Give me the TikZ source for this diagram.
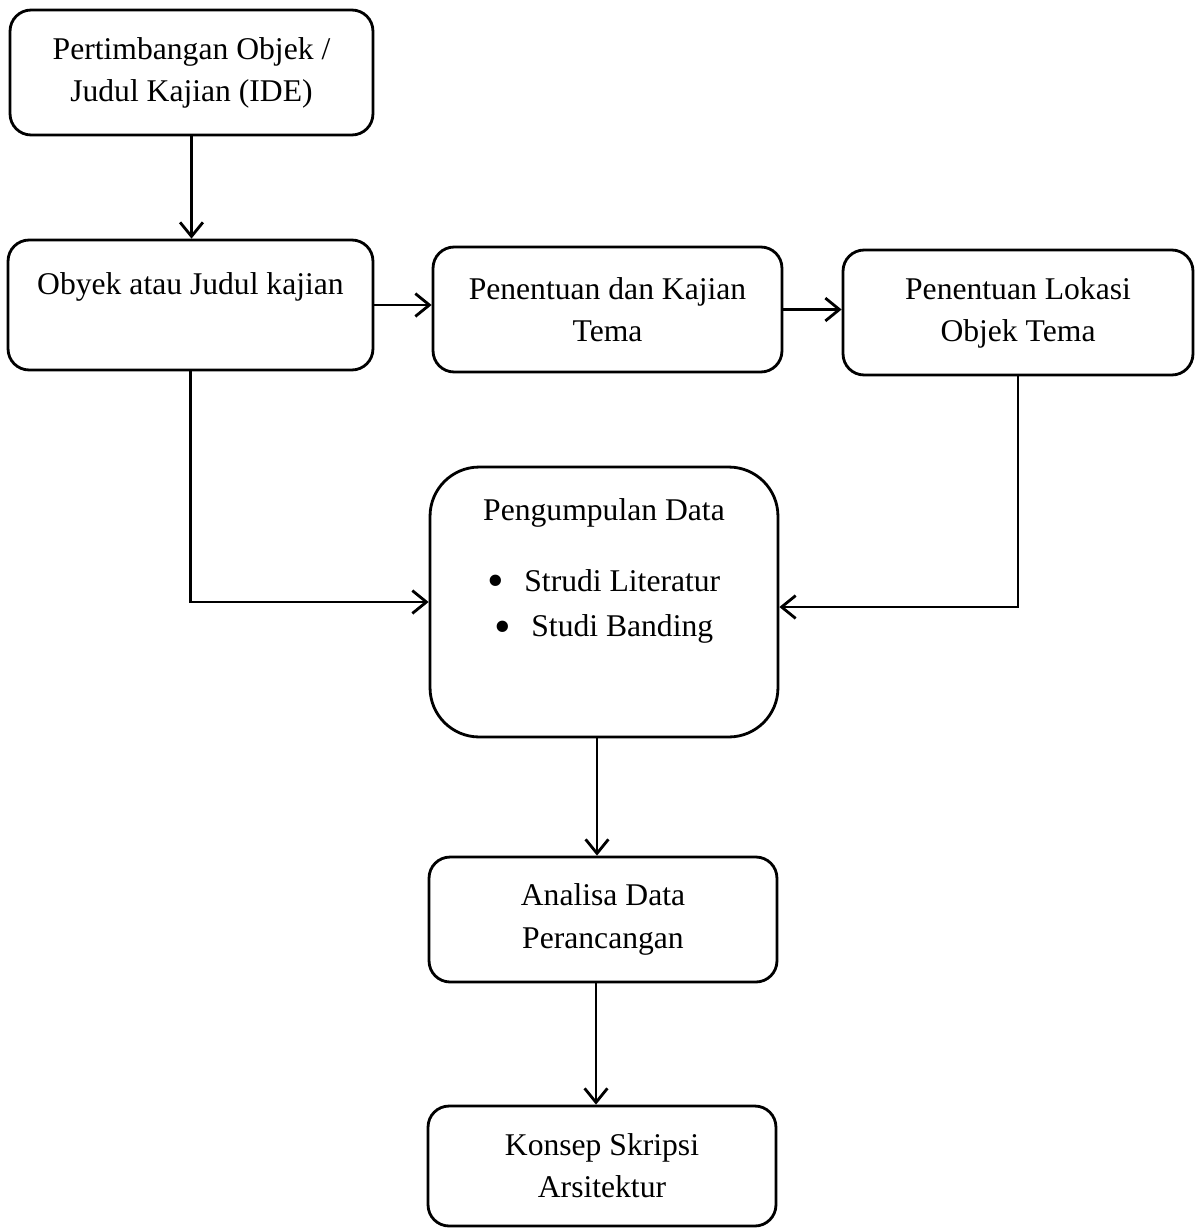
\documentclass[tikz,border=0pt]{standalone}
\usepackage{fontspec}
\setmainfont{Liberation Serif}
\usetikzlibrary{arrows.meta,positioning}
\newcommand{\bigdot}{\raisebox{-0.17em}{\fontsize{27}{24}\selectfont\textbullet}}
\tikzset{
  box/.style={draw, line width=1.6pt, rounded corners=12pt, minimum width=#1, minimum height=2.5cm,
              align=center, inner sep=0pt, font=\fontsize{18}{24}\selectfont},
  bigbox/.style={draw, line width=1.6pt, rounded corners=28pt, minimum width=6.96cm, minimum height=5.4cm,
                 inner sep=0pt},
  txt/.style={align=center, inner sep=0pt, font=\fontsize{18}{24}\selectfont},
  flow/.style={-{Straight Barb[length=8pt,width=13pt,line width=1.6pt]}, line width=1.6pt}, % plain open head
}
\begin{document}
\begin{tikzpicture}[x=0.02cm, y=-0.02cm]
  \useasboundingbox (0,0) rectangle (1196,1228);

  \node[box=7.26cm] (ide) at (191.5,72.5) {Pertimbangan Objek /\\Judul Kajian (IDE)};
  \node[box=7.3cm, minimum height=2.6cm] (obyek) at (190.5,305) {Obyek atau Judul kajian\\\mbox{}};
  \node[box=6.98cm] (tema) at (607.5,309.5) {Penentuan dan Kajian\\Tema};
  \node[box=7.0cm] (lokasi) at (1018,312.5) {Penentuan Lokasi\\Objek Tema};

  \node[bigbox] (data) at (604,602) {};
  \node[txt, yshift=0.62cm] (datatxt) at (data)
    {Pengumpulan Data\\[0.58cm]\bigdot\hspace{0.4cm}Strudi Literatur\\[0.06cm]\bigdot\hspace{0.4cm}Studi Banding};

  \node[box=6.96cm] (analisa) at (603,919.5) {Analisa Data\\Perancangan};
  \node[box=6.96cm, minimum height=2.4cm] (konsep) at (602,1166) {Konsep Skripsi\\Arsitektur};

  \draw[flow] (ide.south) -- (ide.south |- obyek.north);
  \draw[flow] (obyek.east) -- (obyek.east -| tema.west);
  \draw[flow] (tema.east) -- (tema.east -| lokasi.west);
  \draw[flow] (obyek.south) |- (data.west);
  \draw[flow] (lokasi.south) |- ([yshift=-0.1cm]data.east);
  \draw[flow] ([xshift=-0.14cm]data.south) -- ([xshift=-0.14cm]data.south |- analisa.north);
  \draw[flow] ([xshift=-0.14cm]analisa.south) -- ([xshift=-0.14cm]analisa.south |- konsep.north);
\end{tikzpicture}
\end{document}
